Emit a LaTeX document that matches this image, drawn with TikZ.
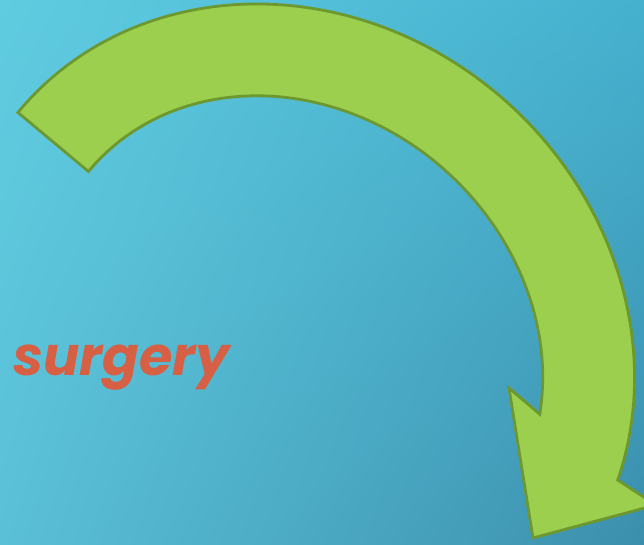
\documentclass[tikz,border=0pt]{standalone}
\usepackage{fontspec}
\usepackage{tikz}
\usetikzlibrary{shadings}
\newfontfamily\gothicfont{Poppins}
\definecolor{bgtopleft}{HTML}{60CCE0}
\definecolor{bgtopright}{HTML}{45B1CF}
\definecolor{bgbottomleft}{HTML}{5AC0D7}
\definecolor{bgbottomright}{HTML}{3B8FAD}
\definecolor{arrowgreen}{HTML}{9BCF4D}
\definecolor{arrowedge}{HTML}{6D982F}
\definecolor{surgeryred}{HTML}{D75F43}

\begin{document}
\begin{tikzpicture}[x=1pt, y=-1pt,
            bendarrow/.style={fill=arrowgreen, draw=arrowedge, line width=2.8pt, line join=miter},
            word/.style     ={font=\gothicfont\bfseries\itshape\fontsize{54}{60}\selectfont,
                              text=surgeryred, inner sep=0pt, anchor=base west}
        ]
            \useasboundingbox (0,0) rectangle (644,545);
            \shade[upper left=bgtopleft, upper right=bgtopright,
                   lower left=bgbottomleft, lower right=bgbottomright] (0,0) rectangle (644,545);

            \begin{scope}
            \clip (0,0) rectangle (644,545);
            \begin{scope}[shift={(291.7,343)}, rotate=-41.9]
            \draw[bendarrow] (178:358 and 323)
                  arc[start angle=178, end angle=339, x radius=358, y radius=323]
                  -- (379.3,-122.7) -- (309.8,-16) -- (191.8,-111.6)
                  -- (330.8:266 and 231)
                  arc[start angle=330.8, end angle=178, x radius=266, y radius=231]
                  -- cycle;
            \end{scope}
            \end{scope}

            \node[word] (surgery) at (13,375) {surgery};
        \end{tikzpicture}
\end{document}
